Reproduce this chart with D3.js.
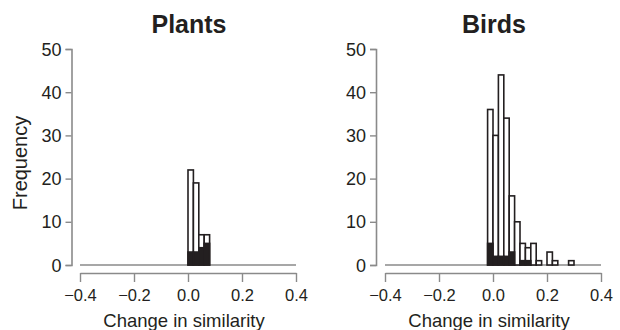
<!DOCTYPE html>
<html><head><meta charset="utf-8">
<script src="https://cdn.jsdelivr.net/npm/d3@7/dist/d3.min.js"></script>
<style>body{margin:0;background:#fff}svg{display:block}text{font-family:"Liberation Sans",Arial,sans-serif;fill:#231f20}</style>
</head><body><svg id="c" width="620" height="330"></svg>
<script>
const binWidth = 0.02;
const plantsBinStarts = [0.00, 0.02, 0.04, 0.06];
const plantsTotal = [22, 19, 7, 7];
const plantsSubset = [3, 3, 4, 5];
const birdsBinStarts = [-0.02, 0.00, 0.02, 0.04, 0.06, 0.08, 0.10, 0.12, 0.14, 0.16, 0.18, 0.20, 0.22, 0.24, 0.26, 0.28];
const birdsTotal = [36, 30, 44, 34, 16, 10, 5, 4, 5, 1, 0, 3, 1, 0, 0, 1];
const birdsSubset = [5, 2, 2, 2, 3, 0, 1, 1, 0, 0, 0, 0, 0, 0, 0, 0];
const xTicks = [-0.4, -0.2, 0.0, 0.2, 0.4];
const yTicks = [0, 10, 20, 30, 40, 50];
const panelTitles = ["Plants", "Birds"];

const svg = d3.select("#c");
const axisCol = "#8a8a8a";

function panel(x0, yAxisX, title, starts, total, subset, showYLabel) {
  const x = d3.scaleLinear().domain([-0.4, 0.4]).range([x0, x0 + 216]);
  const y = d3.scaleLinear().domain([0, 50]).range([265, 49]);
  const g = svg.append("g");

  // y axis
  const ya = g.append("g").attr("transform", `translate(${yAxisX},0)`)
    .call(d3.axisLeft(y).tickValues(yTicks).tickSize(6).tickPadding(4).tickFormat(d3.format("d")));
  ya.select(".domain").attr("stroke", axisCol).attr("stroke-width", 1.6);
  ya.selectAll(".tick line").attr("stroke", axisCol).attr("stroke-width", 1.4);
  ya.selectAll("text").style("font-size", "18px").attr("fill", "#231f20").attr("dy", "0.34em");

  // x axis (offset)
  const xa = g.append("g").attr("transform", `translate(0,273)`)
    .call(d3.axisBottom(x).tickValues(xTicks).tickSize(9).tickSizeOuter(0).tickPadding(7)
      .tickFormat(d => d3.format(".1f")(d).replace("-", "\u2212")));
  xa.select(".domain").attr("stroke", axisCol).attr("stroke-width", 1.6);
  xa.selectAll(".tick line").attr("stroke", axisCol).attr("stroke-width", 1.4);
  xa.selectAll("text").style("font-size", "16.5px").attr("fill", "#231f20");

  // baseline
  g.append("line").attr("x1", x(-0.4)).attr("x2", x(0.4)).attr("y1", y(0)).attr("y2", y(0))
    .attr("stroke", axisCol).attr("stroke-width", 1.6);

  // bars
  const data = starts.map((s, i) => ({s, t: total[i], b: subset[i]}));
  g.selectAll("rect.tot").data(data.filter(d => d.t > 0)).join("rect").attr("class", "tot")
    .attr("x", d => x(d.s)).attr("width", d => x(d.s + binWidth) - x(d.s))
    .attr("y", d => y(d.t)).attr("height", d => y(0) - y(d.t))
    .attr("fill", "#fff").attr("stroke", "#231f20").attr("stroke-width", 1.6);
  g.selectAll("rect.sub").data(data.filter(d => d.b > 0)).join("rect").attr("class", "sub")
    .attr("x", d => x(d.s)).attr("width", d => x(d.s + binWidth) - x(d.s))
    .attr("y", d => y(d.b)).attr("height", d => y(0) - y(d.b))
    .attr("fill", "#231f20").attr("stroke", "#231f20").attr("stroke-width", 1.6);

  // titles
  g.append("text").attr("x", x(0) + 1).attr("y", 33).attr("text-anchor", "middle")
    .style("font-size", "25px").style("font-weight", "bold").text(title);
  g.append("text").attr("x", x(0) - 4).attr("y", 327).attr("text-anchor", "middle")
    .style("font-size", "18.5px").text("Change in similarity");
  if (showYLabel) {
    g.append("text").attr("transform", `translate(27,163) rotate(-90)`).attr("text-anchor", "middle")
      .style("font-size", "20px").text("Frequency");
  }
}

panel(80, 71.5, panelTitles[0], plantsBinStarts, plantsTotal, plantsSubset, true);
panel(385, 376, panelTitles[1], birdsBinStarts, birdsTotal, birdsSubset, false);
</script></body></html>
